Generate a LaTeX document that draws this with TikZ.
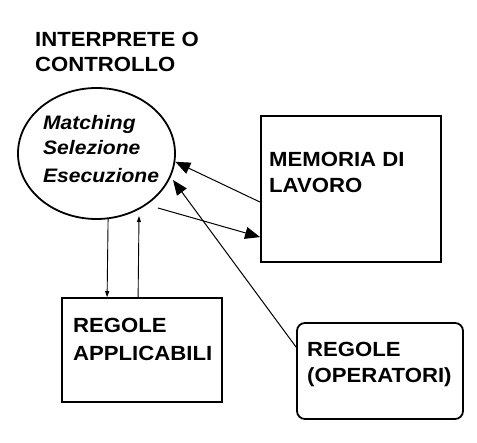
\documentclass[tikz,border=0pt]{standalone}
\usepackage{fontspec}
\setmainfont[FakeStretch=1.08]{Liberation Sans}
\usetikzlibrary{shapes.geometric,arrows.meta,calc}
\begin{document}
\begin{tikzpicture}[x=1pt,y=-1pt,
  lbl/.style={anchor=base west,inner sep=0pt,font=\fontsize{20.5}{24}\selectfont\bfseries},
  itl/.style={anchor=base west,inner sep=0pt,font=\fontsize{19.5}{24}\selectfont\bfseries\itshape},
  boxshape/.style={draw,line width=1.8pt,inner sep=0pt},
  bigarrow/.style={line width=1pt,-{Triangle[length=15pt,width=12pt]}},
  smallarrow/.style={line width=0.9pt,-{Triangle[length=6pt,width=4pt]}}]
\useasboundingbox (0,0) rectangle (477,443);
\node[lbl] (t1) at (35,47) {INTERPRETE O};
\node[lbl] (t2) at (35,72) {CONTROLLO};
\node[draw,ellipse,line width=1.8pt,minimum width=157pt,minimum height=131pt,inner sep=0pt] (ell) at (96.5,153.5) {};
\node[itl] (e1) at (43,130) {Matching};
\node[itl] (e2) at (43,155) {Selezione};
\node[itl] (e3) at (43,183) {Esecuzione};
\node[boxshape,minimum width=180pt,minimum height=146pt] (mem) at (351,189) {};
\node[lbl] (m1) at (269,167) {MEMORIA DI};
\node[lbl] (m2) at (269,193) {LAVORO};
\node[boxshape,minimum width=160pt,minimum height=104pt] (ra) at (142,350) {};
\node[lbl] (r1) at (73,333) {REGOLE};
\node[lbl] (r2) at (73,361) {APPLICABILI};
\node[boxshape,rounded corners=8pt,minimum width=166pt,minimum height=96pt] (ops) at (380,371) {};
\node[lbl] (o1) at (307,357) {REGOLE};
\node[lbl] (o2) at (307,383) {(OPERATORI)};
\coordinate (s2) at (158,208);
\coordinate (tip3) at (173,180);
\coordinate (tip5) at (139,216);
\draw[bigarrow] ($(mem.north west)+(0,87)$) -- (ell.-6);
\draw[bigarrow] (s2) -- ($(mem.north west)+(0,122)$);
\draw[bigarrow] ($(ops.north west)+(0,25)$) -- (tip3);
\draw[smallarrow] (ell.-80) -- ($(ra.north west)+(46,0)$);
\draw[smallarrow] ($(ra.north west)+(77,0)$) -- (tip5);
\end{tikzpicture}
\end{document}
